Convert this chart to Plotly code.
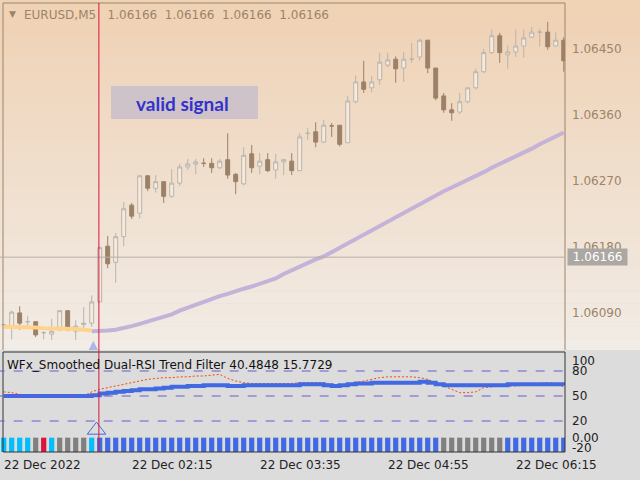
import plotly.graph_objects as go

# ---- data (prices in points above 1.06000, i.e. 1e-5 units) ----
bars = list(range(71))
opens  = [74,72,90,78,78,63,61,67,93,65,74,76,105,181,159,194,237,226,277,260,269,249,267,289,293,294,294,288,299,279,266,307,290,299,285,296,297,284,335,337,323,345,346,322,378,405,397,408,428,436,424,436,439,462,424,386,367,364,378,397,419,445,468,442,446,454,466,473,473,454,462]
highs  = [75,93,99,86,78,65,82,93,93,80,98,114,181,195,199,241,240,278,278,278,269,286,293,300,300,301,301,300,335,281,316,319,308,308,307,300,308,335,342,350,353,349,346,386,414,434,413,445,445,440,446,458,464,462,424,390,376,390,398,423,450,477,472,455,477,477,480,477,487,473,466]
lows   = [72,54,67,71,57,54,53,65,65,53,69,71,104,151,131,181,218,219,256,254,240,247,263,285,279,289,281,286,273,252,264,281,279,282,273,278,278,284,326,316,322,330,317,322,376,390,391,401,425,404,405,431,434,417,380,363,352,361,376,395,417,443,431,423,439,438,465,453,449,453,419]
closes = [74,91,76,78,60,63,65,93,67,72,76,105,179,157,194,232,222,277,260,269,249,267,289,293,296,294,288,297,278,269,305,288,297,284,296,299,284,330,335,323,346,345,320,379,405,395,405,432,435,423,436,436,462,424,383,367,363,378,397,419,445,468,445,446,454,465,473,473,453,462,434]
ma_yellow = [71,71,70,70,70,69,69,68,68,68,67,66]
ma_purple = [65,65,66,67,69,72,75,78,81,84,88,93,97,102,106,110,113,116,120,123,126,130,133,137,143,148,154,158,163,
             167,173,179,185,191,197,203,209,215,221,227,233,239,245,
             250,256,261,266,272,277,282,288,293,298,304,309,314,320,325,330,336]
rsi_blue = [50]*11 + [51] + [53,54,55,56,57,58,58,59,60,61,61,62,62] + [63,63,63,62,62,63,63,63,63,63,63,63,64,64] + [64,63,62,63,64,65,65] + [66,66,66,66,66,66,67,66] + [64,63,63,63,63,63,63,63,63,64,64,64,64,64,64,64,63]
rsi_red = [55,54,52,51,50,49,49,49,49,49,50,55,58,60,62,64,66,68,70,71,72,72,73,73,74,74,75,76,71,68,66,65,65,65,65,65,65,66,66,66,66,64,63,64,66,68,70,72,73,73,73,73,72,70,66,62,58,54,54,55,60,61,62,62,62,63,64,65,66,65,61]
hist_vals = [-20]*71
hist_cols = ["#00BFFF"]*4 + ["#808080", "#DC143C", "#00BFFF", "#808080", "#808080", "#808080", "#808080", "#00BFFF"] + ["#4169E1"]*43 + ["#808080"]*8 + ["#4169E1"]*8
price_ticks = [1.06450, 1.06360, 1.06270, 1.06180, 1.06090]
ind_ticks = [100, 80, 50, 20, 0, -20]
ind_tick_text = ["100", "80", "50", "20", "0.00", "-20"]
levels = [80, 50, 20]
time_bars = [0, 16, 32, 48, 64]
time_labels = ["22 Dec 2022", "22 Dec 02:15", "22 Dec 03:35", "22 Dec 04:55", "22 Dec 06:15"]
current_price = 1.06166
signal_bar = 11.9

P = lambda v: 1.06 + v * 1e-5
FONT = "DejaVu Sans"
BROWN = "#9C8468"

fig = go.Figure()
fig.add_trace(go.Candlestick(
    x=bars, open=[P(v) for v in opens], high=[P(v) for v in highs],
    low=[P(v) for v in lows], close=[P(v) for v in closes],
    increasing=dict(line=dict(color="#B8B4B0", width=1), fillcolor="#F8EAD9"),
    decreasing=dict(line=dict(color="#9C8168", width=1), fillcolor="#9C8168"),
    whiskerwidth=0, xaxis="x", yaxis="y", showlegend=False))
fig.add_trace(go.Scatter(x=bars[11:], y=[P(v) for v in ma_purple], mode="lines",
    line=dict(color="#C4B2D8", width=4), xaxis="x", yaxis="y", showlegend=False))
fig.add_trace(go.Scatter(x=bars[:12], y=[P(v) for v in ma_yellow], mode="lines",
    line=dict(color="#FFD38C", width=4), xaxis="x", yaxis="y", showlegend=False))
fig.add_trace(go.Scatter(x=[11.2], y=[1.06052], mode="markers",
    marker=dict(symbol="arrow-up", size=24, color="#A9B8E6"), xaxis="x", yaxis="y", showlegend=False))

# indicator
fig.add_trace(go.Bar(x=bars, y=hist_vals, base=0, marker=dict(color=hist_cols, line=dict(width=0)),
    width=0.65, xaxis="x2", yaxis="y2", showlegend=False))
fig.add_trace(go.Scatter(x=bars, y=rsi_red, mode="lines", line=dict(color="#FF4500", width=1, dash="2px,2px"),
    xaxis="x2", yaxis="y2", showlegend=False))
fig.add_trace(go.Scatter(x=bars, y=rsi_blue, mode="lines", line=dict(color="#4169E1", width=4, shape="hv"),
    xaxis="x2", yaxis="y2", showlegend=False))
fig.add_trace(go.Scatter(x=[11.6], y=[9], mode="markers",
    marker=dict(symbol="triangle-up-open", size=16, color="#4169E1", line=dict(width=1)),
    xaxis="x2", yaxis="y2", showlegend=False))

shapes = []
top = (240, 210, 180); bot = (242, 236, 230)
n = 30
y0p, y1p = 1 - 350 / 480, 1.0
for i in range(n):
    t = i / (n - 1)
    c = tuple(int(bot[j] + (top[j] - bot[j]) * t) for j in range(3))
    shapes.append(dict(type="rect", xref="paper", yref="paper", x0=0, x1=1,
        y0=y0p + (y1p - y0p) * i / n, y1=y0p + (y1p - y0p) * (i + 1) / n,
        fillcolor="rgb(%d,%d,%d)" % c, line=dict(width=0), layer="below"))
XD = 565 / 640
shapes += [
    dict(type="line", xref="paper", yref="paper", x0=3/640, x1=3/640, y0=y0p, y1=1-3/480, line=dict(color=BROWN, width=1)),
    dict(type="line", xref="paper", yref="paper", x0=3/640, x1=XD, y0=1-3/480, y1=1-3/480, line=dict(color=BROWN, width=1)),
    dict(type="line", xref="paper", yref="paper", x0=XD, x1=XD, y0=y0p, y1=1-3/480, line=dict(color=BROWN, width=1)),
    dict(type="rect", xref="paper", yref="paper", x0=3/640, x1=XD, y0=1-452/480, y1=1-352/480, line=dict(color="#333333", width=1)),
    dict(type="line", xref="x", yref="y", x0=-1, x1=72, y0=current_price, y1=current_price, line=dict(color="#B8B0A8", width=1)),
    dict(type="line", xref="x", yref="paper", x0=signal_bar, x1=signal_bar, y0=1-452/480, y1=1-3/480, line=dict(color="#DC143C", width=1)),
    dict(type="rect", xref="paper", yref="paper", x0=111/640, x1=258/640, y0=1-119/480, y1=1-86/480, fillcolor="#CEC3C8", line=dict(width=0)),
]
for lv in levels:
    shapes.append(dict(type="line", xref="x2", yref="y2", x0=-1, x1=72, y0=lv, y1=lv, line=dict(color="#6A5ACD", width=1, dash="dash")))

def A(**kw):
    kw.setdefault("showarrow", False)
    kw.setdefault("xanchor", "left")
    kw.setdefault("yanchor", "middle")
    return kw

ann = []
ann.append(A(xref="paper", yref="paper", x=22/640, y=1-15/480, text="EURUSD,M5   1.06166  1.06166  1.06166  1.06166",
    font=dict(family=FONT, size=12, color=BROWN)))
ann.append(A(xref="paper", yref="paper", x=12/640, y=1-14/480, text="▼", xanchor="center",
    font=dict(family=FONT, size=9, color=BROWN)))
ann.append(A(xref="paper", yref="paper", x=182/640, y=1-103/480, text="<b>valid signal</b>", xanchor="center",
    font=dict(family="Lato", size=19, color="#3333CC")))
ann.append(A(xref="paper", yref="paper", x=5/640, y=1-365/480, text="WFx_Smoothed Dual-RSI Trend Filter 40.4848 15.7729",
    font=dict(family=FONT, size=12, color="#111111")))
for p in price_ticks:
    ann.append(A(xref="paper", yref="y", x=570/640, y=p, text="%.5f" % p,
        font=dict(family=FONT, size=12, color=BROWN)))
ann.append(A(xref="paper", yref="y", x=567/640, y=current_price, text=" %.5f " % current_price,
    bgcolor="#ABA7A3", font=dict(family=FONT, size=12, color="white")))
for v, t in zip(ind_ticks, ind_tick_text):
    ann.append(A(xref="paper", yref="y2", x=570/640, y=max(min(v, 92), -12), text=t,
        font=dict(family=FONT, size=12, color="#222222")))
for b, t in zip(time_bars, time_labels):
    ann.append(A(xref="x2", yref="paper", x=b, y=1-465/480, text=t, xshift=-2,
        font=dict(family=FONT, size=12, color="#222222")))

xr = [-0.46, 70.16]
fig.update_layout(
    width=640, height=480, autosize=False, margin=dict(l=0, r=0, t=0, b=0),
    paper_bgcolor="#DCDCDC", plot_bgcolor="rgba(0,0,0,0)",
    xaxis=dict(domain=[0, XD], range=xr, visible=False, rangeslider=dict(visible=False)),
    yaxis=dict(domain=[y0p, 1], range=[P(39.4), P(516.8)], visible=False),
    xaxis2=dict(domain=[0, XD], range=xr, visible=False, anchor="y2"),
    yaxis2=dict(domain=[1-452/480, 1-352/480], range=[-17.2, 102.8], visible=False, anchor="x2"),
    shapes=shapes, annotations=ann, bargap=0.3,
)
fig.write_html("out.html", config={"displayModeBar": False},
               post_script="document.body.style.margin='0';document.body.style.padding='0';")
